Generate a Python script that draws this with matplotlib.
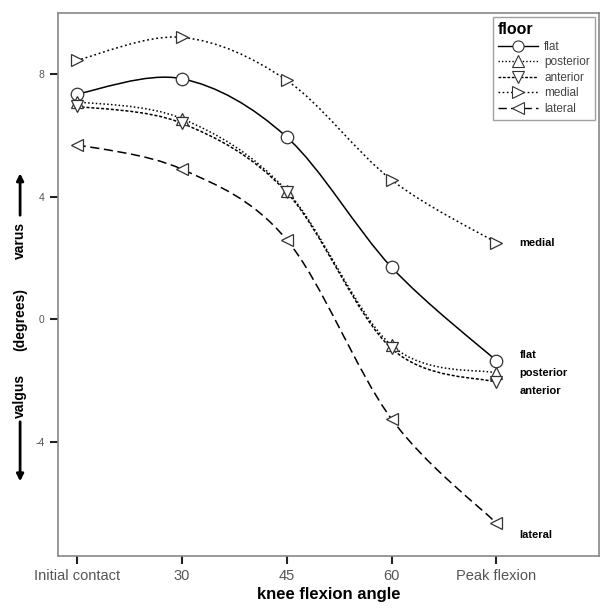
import numpy as np
import matplotlib.pyplot as plt
from matplotlib.path import Path
from matplotlib.patches import PathPatch
from matplotlib.lines import Line2D

plt.rcParams['font.family'] = ['Liberation Sans', 'DejaVu Sans']

## data
angles = ['Initial contact', '30', '45', '60', 'Peak flexion']
flat = [7.35, 7.85, 5.95, 1.7, -1.35]
posterior = [7.1, 6.55, 4.2, -0.85, -1.75]
anterior = [6.95, 6.4, 4.15, -0.95, -2.05]
medial = [8.45, 9.2, 7.8, 4.55, 2.5]
lateral = [5.7, 4.9, 2.6, -3.25, -6.65]

series = [
    ('flat', flat, 'o', '-', (None, None)),
    ('posterior', posterior, '^', ':', (1, 1.5)),
    ('anterior', anterior, 'v', '--', (2, 1.2)),
    ('medial', medial, '>', ':', (1.2, 1.8)),
    ('lateral', lateral, '<', '--', (6, 3)),
]


def smooth_path(x, y):
    # catmull-rom -> cubic bezier segments, drawn by matplotlib
    x = np.asarray(x, float)
    y = np.asarray(y, float)
    pts = np.column_stack([x, y])
    verts = [pts[0]]
    codes = [Path.MOVETO]
    n = len(pts)
    for i in range(n - 1):
        p0 = pts[i - 1] if i > 0 else pts[i]
        p1 = pts[i]
        p2 = pts[i + 1]
        p3 = pts[i + 2] if i + 2 < n else pts[i + 1]
        c1 = p1 + (p2 - p0) / 6.0
        c2 = p2 - (p3 - p1) / 6.0
        verts += [c1, c2, p2]
        codes += [Path.CURVE4] * 3
    return Path(verts, codes)


fig = plt.figure(figsize=(6.09, 6.09), dpi=100)
ax = fig.add_axes([0.095, 0.087, 0.889, 0.892])

xpos = np.arange(len(angles))
handles = []
for name, vals, mk, ls, dash in series:
    patch = PathPatch(smooth_path(xpos, vals), facecolor='none', edgecolor='black',
                      lw=1.1, linestyle=ls)
    if dash[0] is not None:
        patch.set_linestyle((0, dash))
    ax.add_patch(patch)
    ax.plot(xpos, vals, linestyle='none', marker=mk, ms=9, mfc='white',
            mec='#333333', mew=0.9, zorder=3)
    h = Line2D([], [], color='black', lw=1.0, marker=mk, ms=8, mfc='white',
               mec='#333333', mew=0.8)
    if dash[0] is not None:
        h.set_linestyle((0, dash))
    handles.append(h)

# end labels
ax.text(4.22, medial[4], 'medial', fontsize=8, fontweight='bold', va='center')
ax.text(4.22, -1.15, 'flat', fontsize=8, fontweight='bold', va='center')
ax.text(4.22, -1.75, 'posterior', fontsize=8, fontweight='bold', va='center')
ax.text(4.22, -2.33, 'anterior', fontsize=8, fontweight='bold', va='center')
ax.text(4.22, -7.05, 'lateral', fontsize=8, fontweight='bold', va='center')

ax.set_xlim(-0.18, 4.98)
ax.set_ylim(-7.72, 10.0)
ax.set_xticks(xpos)
ax.set_xticklabels(angles)
ax.set_yticks([-4, 0, 4, 8])
ax.set_yticklabels(['-4', '0', '4', '8'])
ax.tick_params(direction='out', length=6, width=1.5, color='#222222',
               labelcolor='#555555', labelsize=10.5)
ax.tick_params(axis='y', labelsize=7.5)
for s in ax.spines.values():
    s.set_color('#888888')
    s.set_linewidth(1.2)

ax.set_xlabel('knee flexion angle', fontsize=12, fontweight='bold', labelpad=3)

# y label with arrows
fig.text(0.033, 0.605, 'varus', rotation=90, fontsize=10, fontweight='bold',
         ha='center', va='center')
fig.text(0.033, 0.475, '(degrees)', rotation=90, fontsize=10, fontweight='bold',
         ha='center', va='center')
fig.text(0.033, 0.35, 'valgus', rotation=90, fontsize=10, fontweight='bold',
         ha='center', va='center')
fig.add_artist(plt.Annotation('', xy=(0.033, 0.72), xytext=(0.033, 0.642),
                              xycoords='figure fraction',
                              arrowprops=dict(arrowstyle='-|>', lw=2, color='black',
                                              mutation_scale=10)))
fig.add_artist(plt.Annotation('', xy=(0.033, 0.205), xytext=(0.033, 0.312),
                              xycoords='figure fraction',
                              arrowprops=dict(arrowstyle='-|>', lw=2, color='black',
                                              mutation_scale=10)))

leg = ax.legend(handles, [s[0] for s in series], title='floor', loc='upper right',
                fontsize=8.5, frameon=True, fancybox=False, edgecolor='#888888',
                borderaxespad=0.35, handlelength=3.4, labelspacing=0.3,
                borderpad=0.45, handletextpad=0.5)
leg.get_title().set_fontweight('bold')
leg.get_title().set_fontsize(11.5)
leg._legend_box.align = 'left'
for t in leg.get_texts():
    t.set_color('#444444')

fig.savefig('out.png', dpi=100)
